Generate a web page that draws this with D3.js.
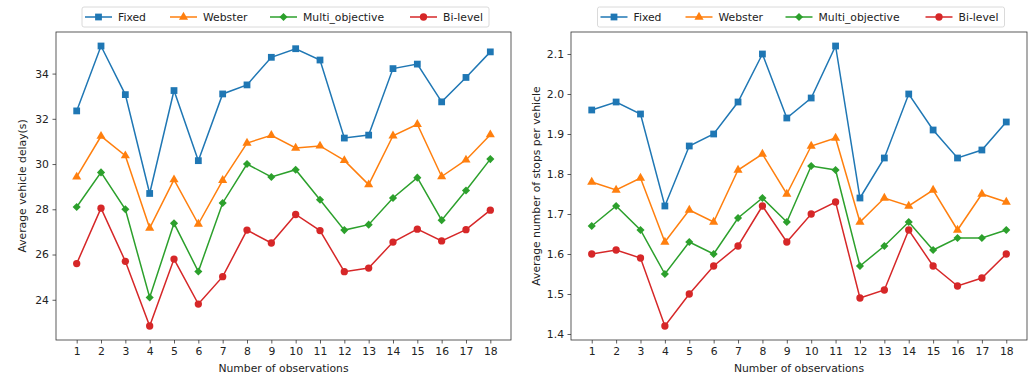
<!DOCTYPE html>
<html>
<head>
<meta charset="utf-8">
<script src="https://cdn.jsdelivr.net/npm/d3@7"></script>
<style>
  body { margin: 0; background: #fff; }
  svg { font-family: "DejaVu Sans", sans-serif; }
</style>
</head>
<body>
<div id="container"></div>
<script>
// observations on the x axis
const observations = d3.range(1, 19);
const seriesNames = ["Fixed", "Webster", "Multi_objective", "Bi-level"];

// left panel: average vehicle delay (s)
const delayFixed = [32.35, 35.22, 33.07, 28.7, 33.25, 30.15, 33.1, 33.5, 34.72, 35.1, 34.6, 31.15, 31.28, 34.22, 34.42, 32.75, 33.83, 34.96];
const delayWebster = [29.43, 31.23, 30.37, 27.17, 29.31, 27.35, 29.28, 30.93, 31.27, 30.71, 30.8, 30.16, 29.09, 31.25, 31.76, 29.45, 30.18, 31.3];
const delayMulti = [28.1, 29.63, 28.0, 24.1, 27.38, 25.25, 28.28, 30.0, 29.43, 29.75, 28.42, 27.08, 27.32, 28.5, 29.4, 27.52, 28.83, 30.22];
const delayBilevel = [25.6, 28.05, 25.7, 22.84, 25.8, 23.81, 25.02, 27.08, 26.51, 27.77, 27.06, 25.24, 25.4, 26.55, 27.12, 26.6, 27.1, 27.96];
const delayTicks = [24, 26, 28, 30, 32, 34];

// right panel: average number of stops per vehicle
const stopsFixed = [1.96, 1.98, 1.95, 1.72, 1.87, 1.90, 1.98, 2.10, 1.94, 1.99, 2.12, 1.74, 1.84, 2.00, 1.91, 1.84, 1.86, 1.93];
const stopsWebster = [1.78, 1.76, 1.79, 1.63, 1.71, 1.68, 1.81, 1.85, 1.75, 1.87, 1.89, 1.68, 1.74, 1.72, 1.76, 1.66, 1.75, 1.73];
const stopsMulti = [1.67, 1.72, 1.66, 1.55, 1.63, 1.60, 1.69, 1.74, 1.68, 1.82, 1.81, 1.57, 1.62, 1.68, 1.61, 1.64, 1.64, 1.66];
const stopsBilevel = [1.60, 1.61, 1.59, 1.42, 1.50, 1.57, 1.62, 1.72, 1.63, 1.70, 1.73, 1.49, 1.51, 1.66, 1.57, 1.52, 1.54, 1.60];
const stopsTicks = [1.4, 1.5, 1.6, 1.7, 1.8, 1.9, 2.0, 2.1];

const colors = ["#1f77b4", "#ff7f0e", "#2ca02c", "#d62728"];
const fontSize = "10.8px";

const width = 1032, height = 376;
const svg = d3.select("#container").append("svg")
  .attr("width", width)
  .attr("height", height);

// marker shapes like matplotlib s, ^, D, o
const markers = [
  d3.symbol().type(d3.symbolSquare).size(46),
  d3.symbol().type(d3.symbolTriangle).size(36),
  d3.symbol().type(d3.symbolSquare).size(33),
  d3.symbol().type(d3.symbolCircle).size(42)
];
const markerRotate = [0, 0, 45, 0];

const panels = [
  {left: 56, right: 511, yLabel: "Average vehicle delay(s)", labelX: 22,
   series: [delayFixed, delayWebster, delayMulti, delayBilevel], ticks: delayTicks, fmt: d3.format("d")},
  {left: 571, right: 1027, yLabel: "Average number of stops per vehicle", labelX: 536,
   series: [stopsFixed, stopsWebster, stopsMulti, stopsBilevel], ticks: stopsTicks, fmt: d3.format(".1f")}
];

const plotTop = 32, plotBottom = 340;

panels.forEach(p => {
  const g = svg.append("g");

  // matplotlib style 5% margins
  const allVals = p.series.flat();
  const [lo, hi] = d3.extent(allVals);
  const pad = (hi - lo) * 0.05;
  const y = d3.scaleLinear().domain([lo - pad, hi + pad]).range([plotBottom, plotTop]);
  const x = d3.scaleLinear().domain([1 - 17 * 0.05, 18 + 17 * 0.05]).range([p.left, p.right]);

  // lines and markers
  p.series.forEach((vals, i) => {
    const line = d3.line().x((d, j) => x(observations[j])).y(d => y(d));
    g.append("path")
      .datum(vals)
      .attr("d", line)
      .attr("fill", "none")
      .attr("stroke", colors[i])
      .attr("stroke-width", 1.5);
    g.selectAll(null)
      .data(vals)
      .enter().append("path")
      .attr("d", markers[i])
      .attr("transform", (d, j) => `translate(${x(observations[j])},${y(d)}) rotate(${markerRotate[i]})`)
      .attr("fill", colors[i]);
  });

  // axes
  const xAxis = g.append("g")
    .attr("transform", `translate(0,${plotBottom})`)
    .call(d3.axisBottom(x).tickValues(observations).tickSize(3.5).tickPadding(3.5).tickFormat(d3.format("d")));
  const yAxis = g.append("g")
    .attr("transform", `translate(${p.left},0)`)
    .call(d3.axisLeft(y).tickValues(p.ticks).tickSize(3.5).tickPadding(3.5).tickFormat(p.fmt));
  [xAxis, yAxis].forEach(a => {
    a.select(".domain").remove();
    a.selectAll("line").attr("stroke", "#333").attr("stroke-width", 0.8);
    a.selectAll("text").attr("fill", "#222").style("font-size", fontSize)
      .style("font-family", "DejaVu Sans, sans-serif");
  });

  // frame
  g.append("rect")
    .attr("x", p.left).attr("y", plotTop)
    .attr("width", p.right - p.left).attr("height", plotBottom - plotTop)
    .attr("fill", "none").attr("stroke", "#333").attr("stroke-width", 0.8);

  g.append("text")
    .attr("x", (p.left + p.right) / 2)
    .attr("y", 372)
    .attr("text-anchor", "middle")
    .style("font-size", fontSize)
    .attr("fill", "#222")
    .text("Number of observations");

  g.append("text")
    .attr("transform", `translate(${p.labelX},${(plotTop + plotBottom) / 2}) rotate(-90)`)
    .attr("text-anchor", "middle")
    .attr("dy", "0.35em")
    .style("font-size", fontSize)
    .attr("fill", "#222")
    .text(p.yLabel);

  // legend
  const cx = (p.left + p.right) / 2 + 2;
  const legW = 407, legH = 20;
  const leg = g.append("g").attr("transform", `translate(${cx - legW / 2},7)`);
  leg.append("rect")
    .attr("width", legW).attr("height", legH)
    .attr("rx", 2)
    .attr("fill", "#fff").attr("stroke", "#d0d0d0").attr("stroke-width", 0.8);
  const offsets = [3, 88, 188, 328];
  seriesNames.forEach((name, i) => {
    const e = leg.append("g").attr("transform", `translate(${offsets[i]},${legH / 2})`);
    e.append("line").attr("x1", 0).attr("x2", 27)
      .attr("stroke", colors[i]).attr("stroke-width", 1.5);
    e.append("path").attr("d", markers[i])
      .attr("transform", `translate(13.5,0) rotate(${markerRotate[i]})`)
      .attr("fill", colors[i]);
    e.append("text").attr("x", 33).attr("dy", "0.35em")
      .style("font-size", fontSize).attr("fill", "#222")
      .text(name);
  });
});
</script>
</body>
</html>
